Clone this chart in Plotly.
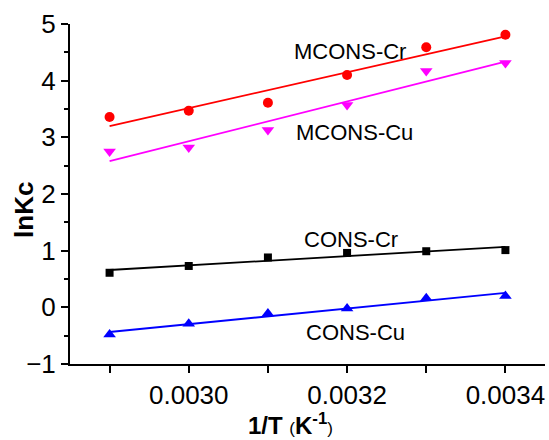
import numpy as np
import plotly.graph_objects as go

inv_T = [0.0029, 0.0030, 0.0031, 0.0032, 0.0033, 0.0034]
mcons_cr = [3.36, 3.47, 3.61, 4.10, 4.59, 4.81]
mcons_cu = [2.75, 2.82, 3.13, 3.57, 4.17, 4.31]
cons_cr = [0.61, 0.73, 0.88, 0.96, 0.99, 1.01]
cons_cu = [-0.48, -0.29, -0.11, -0.02, 0.16, 0.20]

x_tickvals = [0.0029, 0.0030, 0.0031, 0.0032, 0.0033, 0.0034]
x_ticktext = ["", "0.0030", "", "0.0032", "", "0.0034"]
y_tickvals = [-1, 0, 1, 2, 3, 4, 5]

series = [
    ("MCONS-Cr", mcons_cr, "#FF0000", "circle", 10, 0.003204, 4.52),
    ("MCONS-Cu", mcons_cu, "#FF00FF", "triangle-down", 11, 0.003209, 3.08),
    ("CONS-Cr", cons_cr, "#000000", "square", 8, 0.003205, 1.19),
    ("CONS-Cu", cons_cu, "#0000FF", "triangle-up", 11, 0.003210, -0.45),
]

FONT = "Arial, Liberation Sans, sans-serif"
fig = go.Figure()
x = np.array(inv_T)
for name, vals, color, sym, size, lx, ly in series:
    k, b = np.polyfit(x, np.array(vals), 1)
    fig.add_trace(go.Scatter(x=[x[0], x[-1]], y=[k * x[0] + b, k * x[-1] + b], mode="lines",
                             line=dict(color=color, width=1.8), showlegend=False, hoverinfo="skip"))
    fig.add_trace(go.Scatter(x=inv_T, y=vals, mode="markers", name=name,
                             marker=dict(color=color, symbol=sym, size=size, line=dict(width=0)),
                             showlegend=False))
    fig.add_annotation(x=lx, y=ly, xref="x", yref="y", text=name, showarrow=False,
                       xanchor="center", yanchor="middle",
                       font=dict(family=FONT, size=22, color="black"))

fig.add_annotation(xref="paper", yref="paper", x=-0.097, y=0.453, text="<b>lnKc</b>",
                   textangle=-90, showarrow=False, xanchor="center", yanchor="middle",
                   font=dict(family=FONT, size=26, color="black"))
fig.add_annotation(xref="paper", yref="paper", x=0.465, y=-0.175,
                   xanchor="center", yanchor="middle",
                   text="<b>1/T </b><span style='font-size:17px'>(</span><b>K<sup>-1</sup></b><span style='font-size:17px'>)</span>",
                   showarrow=False, font=dict(family=FONT, size=24, color="black"))

fig.update_layout(
    width=549, height=440,
    margin=dict(l=70, r=4, t=24, b=76),
    paper_bgcolor="white", plot_bgcolor="white",
    font=dict(family=FONT, color="black"),
    xaxis=dict(range=[0.00285, 0.00345], tickvals=x_tickvals, ticktext=x_ticktext,
               showgrid=False, zeroline=False, showline=True, linecolor="black", linewidth=2,
               ticks="outside", ticklen=7, tickwidth=2, tickcolor="black",
               tickfont=dict(family=FONT, size=26, color="black")),
    yaxis=dict(range=[-1, 5], tickvals=y_tickvals,
               showgrid=False, zeroline=False, showline=True, linecolor="black", linewidth=2,
               ticks="outside", ticklen=7, tickwidth=2, tickcolor="black",
               minor=dict(dtick=0.5, ticks="outside", ticklen=4, tickwidth=2, tickcolor="black"),
               tickfont=dict(family=FONT, size=26, color="black")),
)

fig.write_html("out.html")
